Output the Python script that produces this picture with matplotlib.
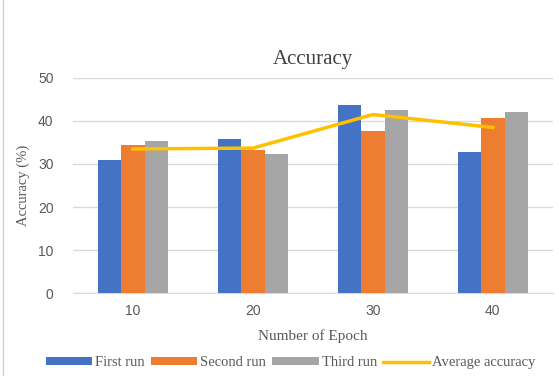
import numpy as np
import matplotlib.pyplot as plt
from matplotlib.lines import Line2D

epochs = ['10', '20', '30', '40']
first_run = [31.0, 35.9, 43.8, 32.8]
second_run = [34.5, 33.3, 37.6, 40.6]
third_run = [35.3, 32.4, 42.5, 42.2]
avg_accuracy = [33.5, 33.7, 41.5, 38.5]

serif = 'Liberation Serif'
sans = 'Liberation Sans'
txt_gray = '#595959'

fig = plt.figure(figsize=(5.59, 3.76), dpi=100)
ax = fig.add_axes([0.1306, 0.2207, 0.8584, 0.5719])

x = np.arange(len(epochs))
w = 0.195
b1 = ax.bar(x - w, first_run, w, color='#4472C4', label='First run', zorder=3)
b2 = ax.bar(x, second_run, w, color='#ED7D31', label='Second run', zorder=3)
b3 = ax.bar(x + w, third_run, w, color='#A5A5A5', label='Third run', zorder=3)
ln, = ax.plot(x, avg_accuracy, color='#FFC000', lw=2.5, label='Average accuracy', zorder=4)

ax.set_xlim(-0.5, len(epochs) - 0.5)
ax.set_ylim(0, 50)
ax.set_yticks(range(0, 51, 10))
ax.set_xticks(x)
ax.set_xticklabels(epochs)
ax.grid(axis='y', color='#d9d9d9', lw=1, zorder=0)
for s in ['top', 'right', 'left']:
    ax.spines[s].set_visible(False)
ax.spines['bottom'].set_color('#d9d9d9')
ax.tick_params(length=0, labelsize=10, labelcolor=txt_gray, pad=8)
for lab in ax.get_xticklabels() + ax.get_yticklabels():
    lab.set_fontfamily(sans)
ax.tick_params(axis='y', pad=14)

ax.set_title('Accuracy', fontfamily=serif, fontsize=15, color='#404040', pad=10)
ax.set_ylabel('Accuracy (%)', fontfamily=serif, fontsize=10.5, color=txt_gray, labelpad=6)
ax.set_xlabel('Number of Epoch', fontfamily=serif, fontsize=11, color=txt_gray, labelpad=8)

handles = [b1, b2, b3, ln]
labels = [h.get_label() for h in handles]
fig.legend(handles, labels, loc='center', bbox_to_anchor=(0.52, 0.035), ncol=4,
           frameon=False, prop={'family': serif, 'size': 10.5}, handlelength=3.2,
           handleheight=0.5, handletextpad=0.2, columnspacing=0.4, labelcolor=txt_gray)

fig.add_artist(Line2D([0.006, 0.006], [0, 1], color='#d0d0d0', lw=1))

fig.savefig('out.png', dpi=100)
